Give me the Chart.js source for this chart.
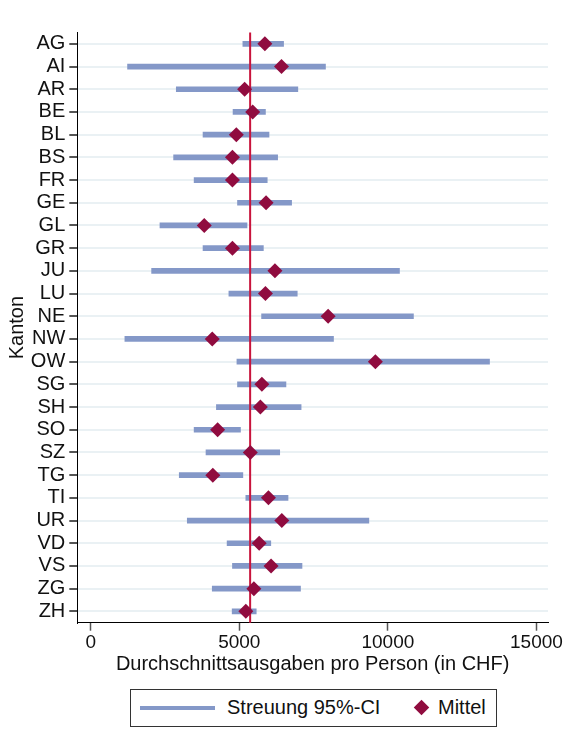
<!DOCTYPE html>
<html>
<head>
<meta charset="utf-8">
<script src="https://cdn.jsdelivr.net/npm/chart.js@4"></script>
<style>
    body { margin: 0; background: #fff; font-family: "Liberation Sans", Arial, sans-serif; }
    #wrap { position: relative; width: 568px; height: 749px; }
    #chart { position: absolute; left: 0; top: 0; }
    #legend {
        position: absolute; left: 130px; top: 689px; width: 367px; height: 38px;
        box-sizing: border-box; border: 1px solid #333; font-size: 20px; color: #111; line-height: 23px;
    }
    #legend .line { position: absolute; left: 9px; top: 16px; width: 75px; height: 4px; background: #8498c8; }
    #legend .t1 { position: absolute; left: 96px; top: 6px; }
    #legend .dia { position: absolute; left: 285px; top: 12px; width: 11px; height: 11px; background: #900c3f; transform: rotate(45deg); }
    #legend .t2 { position: absolute; left: 307px; top: 6px; }
</style>
</head>
<body>
<div id="wrap">
    <canvas id="chart" width="568" height="680"></canvas>
    <div id="legend">
        <span class="line"></span><span class="t1">Streuung 95%-CI</span>
        <span class="dia"></span><span class="t2">Mittel</span>
    </div>
</div>
<script>
// --- Data ---
const cantons = ['AG','AI','AR','BE','BL','BS','FR','GE','GL','GR','JU','LU','NE',
                 'NW','OW','SG','SH','SO','SZ','TG','TI','UR','VD','VS','ZG','ZH'];
const ciLow  = [5120, 1240, 2880, 4790, 3780, 2790, 3480, 4940, 2330, 3780, 2050, 4650, 5750,
                1150, 4920, 4940, 4230, 3480, 3880, 2980, 5220, 3250, 4590, 4770, 4090, 4760];
const ciHigh = [6490, 7900, 6970, 5880, 6000, 6290, 5940, 6760, 5260, 5810, 10390, 6950, 10860,
                8170, 13420, 6570, 7080, 5040, 6360, 5120, 6640, 9360, 6060, 7110, 7060, 5570];
const means  = [5860, 6420, 5180, 5450, 4900, 4770, 4770, 5900, 3820, 4770, 6200, 5880, 7990,
                4090, 9580, 5760, 5710, 4270, 5370, 4110, 5980, 6430, 5670, 6070, 5490, 5220];
const overallMean = 5365;
const xTicks = [0, 5000, 10000, 15000];

const barColor = '#8498c8';
const dotColor = '#900c3f';
const refColor = '#c8143c';

// vertical line for the overall mean, drawn after the bars but below the diamonds
const meanLinePlugin = {
    id: 'meanLine',
    afterDatasetDraw(chart, args) {
        if (args.index !== 1) return;
        const ctx = chart.ctx;
        const x = chart.scales.x.getPixelForValue(overallMean);
        const area = chart.chartArea;
        ctx.save();
        ctx.strokeStyle = refColor;
        ctx.lineWidth = 2;
        ctx.beginPath();
        ctx.moveTo(x, area.top);
        ctx.lineTo(x, area.bottom);
        ctx.stroke();
        ctx.restore();
    }
};

const ctx = document.getElementById('chart').getContext('2d');
new Chart(ctx, {
    type: 'bar',
    data: {
        labels: cantons,
        datasets: [
            {
                type: 'line',
                label: 'Mittel',
                indexAxis: 'y',
                data: means.map((m, i) => ({ x: m, y: cantons[i] })),
                showLine: false,
                pointStyle: 'rectRot',
                pointRadius: 7.5,
                pointBackgroundColor: dotColor,
                pointBorderColor: dotColor,
                pointBorderWidth: 0
            },
            {
                label: 'Streuung 95%-CI',
                data: ciLow.map((l, i) => [l, ciHigh[i]]),
                backgroundColor: barColor,
                borderWidth: 0,
                barThickness: 5
            }
        ]
    },
    options: {
        indexAxis: 'y',
        responsive: false,
        animation: false,
        devicePixelRatio: 1,
        layout: { padding: { left: 0, top: 32.5, right: 20, bottom: 0 } },
        plugins: {
            legend: { display: false },
            tooltip: { enabled: false }
        },
        scales: {
            x: {
                type: 'linear',
                min: -451,
                max: 15388,
                afterBuildTicks: (scale) => { scale.ticks = xTicks.map(v => ({ value: v })); },
                afterFit: (scale) => { scale.height = 57.3; },
                grid: { drawOnChartArea: false, drawTicks: true, tickLength: 8, tickColor: '#555', tickWidth: 1.5 },
                border: { display: true, color: '#000', width: 1 },
                ticks: {
                    color: '#111', font: { family: 'Liberation Sans', size: 19 }, padding: 1, maxRotation: 0,
                    callback: (v) => String(v)
                },
                title: {
                    display: true,
                    text: 'Durchschnittsausgaben pro Person (in CHF)',
                    color: '#111',
                    font: { family: 'Liberation Sans', size: 20 },
                    padding: { top: 0, bottom: 4 }
                }
            },
            y: {
                type: 'category',
                offset: true,
                afterFit: (scale) => { scale.width = 77.3; },
                grid: { offset: false, color: '#eaf1f4', lineWidth: 2, tickLength: 8, tickColor: '#555', tickWidth: 2 },
                border: { display: true, color: '#000', width: 1 },
                ticks: { color: '#111', font: { family: 'Liberation Sans', size: 20 }, padding: 4, autoSkip: false },
                title: {
                    display: true,
                    text: 'Kanton',
                    color: '#111',
                    font: { family: 'Liberation Sans', size: 20 },
                    padding: { top: 5, bottom: 0 }
                }
            }
        }
    },
    plugins: [meanLinePlugin]
});
</script>
</body>
</html>
